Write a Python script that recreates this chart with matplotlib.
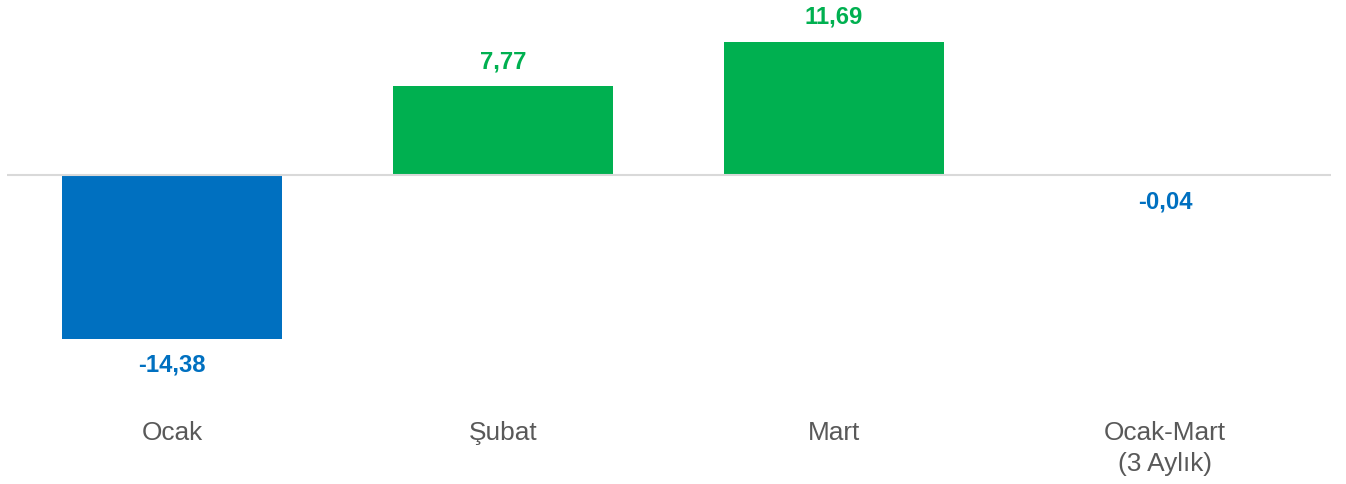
import matplotlib
matplotlib.use("Agg")
import matplotlib.pyplot as plt

# data
categories = ["Ocak", "Şubat", "Mart", "Ocak-Mart\n(3 Aylık)"]
values = [-14.38, 7.77, 11.69, -0.04]
value_labels = ["-14,38", "7,77", "11,69", "-0,04"]

BLUE = "#0070C0"
GREEN = "#00B050"
TEXT_GRAY = "#595959"

plt.rcParams["font.family"] = ["Liberation Sans", "DejaVu Sans"]

fig = plt.figure(figsize=(13.46, 4.85), dpi=100)
ax = fig.add_axes([6.5 / 1346, 75 / 485, 1324 / 1346, 410 / 485])

colors = [GREEN if v >= 0 else BLUE for v in values]
x = list(range(len(categories)))
ax.bar(x, values, width=0.665, color=colors, zorder=2)
ax.axhline(0, color="#D9D9D9", lw=1.5, zorder=3)

# value labels above / below each bar
for xi, v, lab, c in zip(x, values, value_labels, colors):
    off = 18.5 if v >= 0 else -18.5
    ax.annotate(lab, (xi, v), xytext=(0, off), textcoords="offset points",
                ha="center", va="center", fontsize=17.2, fontweight="bold", color=c)

ax.set_xlim(-0.5, 3.5)
ax.set_ylim(-20.55, 15.44)
ax.set_xticks(x)
ax.set_xticklabels(categories, fontsize=18.9, color=TEXT_GRAY, linespacing=1.35)
ax.tick_params(axis="x", length=0, pad=8)
ax.set_yticks([])
for s in ax.spines.values():
    s.set_visible(False)

fig.savefig("out.png", dpi=100)
